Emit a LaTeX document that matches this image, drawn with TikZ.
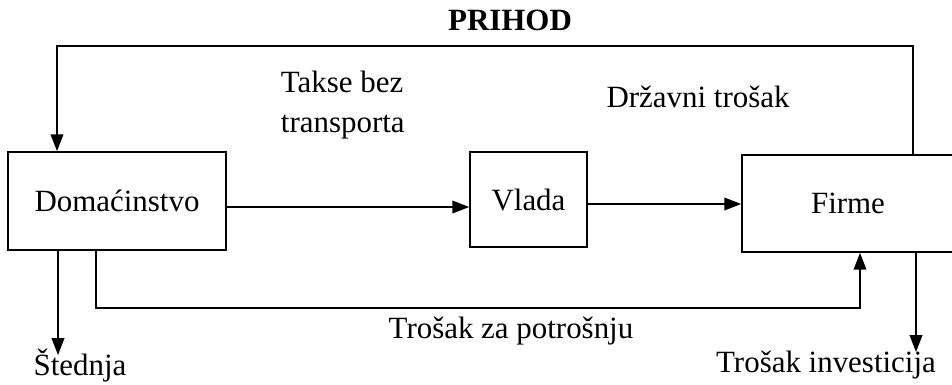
\documentclass[tikz,border=0pt]{standalone}
\usepackage{fontspec}
\setmainfont{Liberation Serif}
\usepackage{tikz}
\usetikzlibrary{arrows.meta}
\usetikzlibrary{calc}

\begin{document}
\begin{tikzpicture}[x=0.025cm,y=-0.025cm,font=\fontsize{22}{28}\selectfont]
\tikzstyle{box} = [draw, line width=1.2pt, inner sep=0pt]
\tikzstyle{flow} = [line width=1.2pt, -{Triangle[length=12pt,width=9pt]}]
\useasboundingbox (0,0) rectangle (952,384);
\node[box, minimum width=218*0.025cm, minimum height=98*0.025cm](dom) at (117,201){Domaćinstvo};
\node[box, minimum width=117*0.025cm, minimum height=95*0.025cm](vlada) at (528.5,199.5){Vlada};
\node[box, minimum width=212*0.025cm, minimum height=97*0.025cm](firme) at (848,203.5){Firme};
\node(prihod) at (510,20){\textbf{PRIHOD}};
\node[align=left, anchor=west](takse) at (276,105){Takse bez\\transporta};
\node(drz) at (698,97){Državni trošak};
\node(potr) at (511,331){Trošak za potrošnju};
\node(sted) at (80,365){Štednja};
\node(inv) at (826,365){Trošak investicija};
\coordinate(r1) at (913,46);
\coordinate(r2) at (57,46);
\coordinate(s1) at (58,355);
\coordinate(c0) at (96,0);
\coordinate(c1) at (860,308);
\coordinate(t1) at (916,352);
%PRIHOD back to the households
\draw[flow](firme.north -| r1) -- (r1) -- (r2) -- (r2 |- dom.north);
\draw[flow]($(dom.east)+(0,6)$) coordinate(a1) -- (a1 -| vlada.west);
\draw[flow]($(vlada.east)+(0,4.5)$) coordinate(a2) -- (a2 -| firme.west);
\draw[flow](dom.south -| s1) -- (s1);
\draw[flow](dom.south -| c0) |- (c1) -- (c1 |- firme.south);
\draw[flow](firme.south -| t1) -- (t1);
\end{tikzpicture}
\end{document}
